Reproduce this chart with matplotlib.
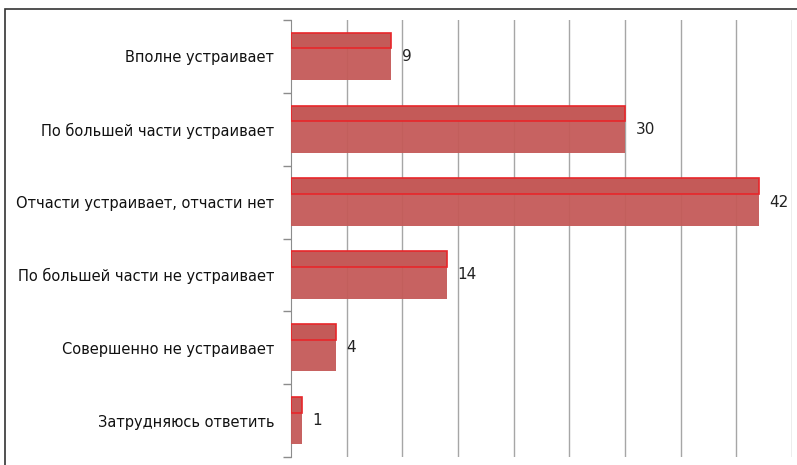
import matplotlib
matplotlib.use("Agg")
import matplotlib.pyplot as plt
from matplotlib.patches import Rectangle

categories = [
    "Вполне устраивает",
    "По большей части устраивает",
    "Отчасти устраивает, отчасти нет",
    "По большей части не устраивает",
    "Совершенно не устраивает",
    "Затрудняюсь ответить",
]
values = [9, 30, 42, 14, 4, 1]

W, H = 797, 465
fig = plt.figure(figsize=(W / 100, H / 100), dpi=100)
fig.patch.set_facecolor("white")

# outer frame of the chart object
fig.patches.append(Rectangle((5 / W, -0.1), 1.2, (H - 9) / H + 0.1,
                             transform=fig.transFigure, fill=False,
                             edgecolor="#333333", linewidth=1.2))

ax = fig.add_axes([291 / W, 1 - 457 / H, (792 - 291) / W, (457 - 20) / H])

bar_h = 0.65
top_h = 0.215
pos = list(range(len(categories)))

ax.barh(pos, values, height=bar_h, color="#c45a58", alpha=0.95, zorder=3)
ax.barh([p - bar_h / 2 + top_h / 2 for p in pos], values, height=top_h,
        color="#c45a58", edgecolor="#e8262a", linewidth=1.2, zorder=4)

for p, v in zip(pos, values):
    ax.text(v + 0.95, p, str(v), va="center", ha="left", fontsize=11,
            color="#222222")

ax.set_xlim(0, 45)
ax.set_ylim(len(categories) - 0.5, -0.5)
ax.set_xticks(range(5, 46, 5))
ax.xaxis.grid(True, color="#a6a6a6", linewidth=1)
ax.set_axisbelow(True)
ax.tick_params(axis="x", length=0, labelbottom=False)

ax.set_yticks(pos)
ax.set_yticklabels(categories, fontsize=10.5, color="#111111")
ax.set_yticks([p + 0.5 for p in [-1] + pos], minor=True)
ax.tick_params(axis="y", which="major", length=0, pad=12)
ax.tick_params(axis="y", which="minor", length=6, color="#8c8c8c", width=1)

for s in ["top", "right", "bottom"]:
    ax.spines[s].set_visible(False)
ax.spines["left"].set_color("#8c8c8c")

fig.savefig("out.png", dpi=100)
